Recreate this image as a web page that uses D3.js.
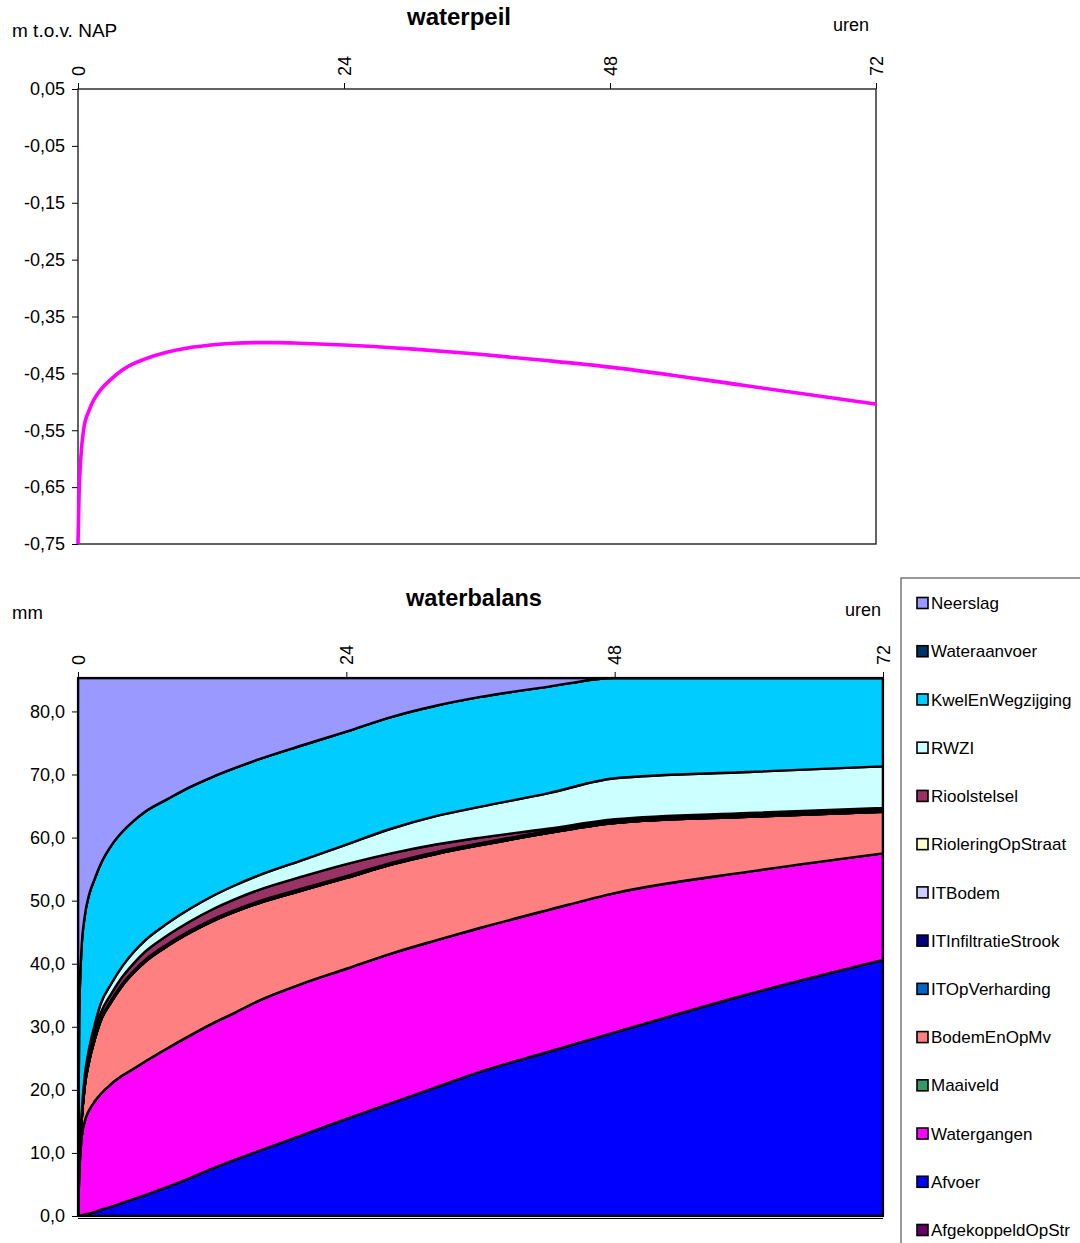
<!DOCTYPE html>
<html>
<head>
<meta charset="utf-8">
<script src="https://cdn.jsdelivr.net/npm/d3@7"></script>
<style>
  body { margin: 0; background: #fff; }
  svg { display: block; font-family: "Liberation Sans", Arial, sans-serif; }
</style>
</head>
<body>
<div class="canvas"></div>
<script>
// ---- data: waterpeil (m t.o.v. NAP) ----
const peilUren = [0, 0.1, 0.25, 0.5, 1, 1.5, 2, 3, 4, 5, 6, 8, 10, 12, 14, 16, 18, 20, 24, 30, 36, 42, 48, 60, 72];
const peil = [-0.75, -0.66, -0.6, -0.55, -0.515, -0.494, -0.48, -0.46, -0.444, -0.433, -0.425, -0.413, -0.405,
  -0.4, -0.397, -0.396, -0.396, -0.397, -0.4, -0.407, -0.416, -0.427, -0.439, -0.471, -0.504];
const peilTicks = [0.05, -0.05, -0.15, -0.25, -0.35, -0.45, -0.55, -0.65, -0.75];

// ---- data: waterbalans (mm) ----
const uren = [0, 0.1, 0.3, 0.6, 1, 1.5, 2, 3, 4, 5, 6, 8, 10, 12, 14, 16, 20, 24, 28, 32, 36, 42, 48, 60, 72];
const afgekoppeldOpStr = [0, 0, 0, 0, 0, 0, 0, 0, 0, 0, 0, 0, 0, 0, 0, 0, 0, 0, 0, 0, 0, 0, 0, 0, 0];
const afvoer = [0, 0.05, 0.12, 0.25, 0.4, 0.65, 0.95, 1.5, 2.1, 2.7, 3.3, 4.6, 6.0, 7.5, 8.9, 10.2, 12.8, 15.4,
  17.9, 20.4, 22.9, 26.0, 29.1, 35.2, 40.6];
const watergangen = [0, 5.95, 11.88, 14.75, 16.4, 17.55, 18.35, 19.5, 20.2, 20.7, 21.2, 22.0, 22.6, 23.0, 23.3,
  23.8, 24.0, 23.8, 23.7, 23.3, 22.8, 22.5, 22.1, 19.4, 16.9];
const maaiveld = [0, 0, 0, 0, 0, 0, 0, 0, 0, 0, 0, 0, 0, 0, 0, 0, 0, 0, 0, 0, 0, 0, 0, 0, 0];
const bodemEnOpMv = [0, 2.0, 2.5, 5.5, 7.7, 9.8, 11.5, 13.0, 14.3, 15.2, 15.8, 16.2, 16.3, 16.2, 16.0, 15.5,
  14.8, 14.4, 14.1, 13.7, 13.1, 12.2, 11.1, 8.7, 6.6];
const itOpVerharding = [0, 0, 0, 0, 0, 0, 0, 0, 0, 0, 0, 0, 0, 0, 0, 0, 0, 0, 0, 0, 0, 0, 0, 0, 0];
const itInfiltratieStrook = [0, 0, 0, 0, 0, 0, 0, 0, 0, 0, 0, 0, 0, 0, 0, 0, 0, 0, 0, 0, 0, 0, 0, 0, 0];
const itBodem = [0, 0, 0.1, 0.1, 0.1, 0.1, 0.1, 0.1, 0.1, 0.1, 0.1, 0.1, 0.1, 0.1, 0.1, 0.1, 0.1, 0.1, 0.1,
  0.1, 0.1, 0.1, 0.1, 0.1, 0.1];
const rioleringOpStraat = [0, 0.1, 0.1, 0.2, 0.2, 0.2, 0.2, 0.2, 0.2, 0.2, 0.2, 0.2, 0.2, 0.2, 0.2, 0.2, 0.2,
  0.2, 0.2, 0.2, 0.2, 0.2, 0.2, 0.2, 0.2];
const rioolstelsel = [0, 0.3, 0.5, 0.7, 0.8, 0.9, 1.0, 1.0, 1.1, 1.2, 1.3, 1.4, 1.5, 1.6, 1.7, 1.8, 1.9, 1.9,
  1.5, 1.2, 0.9, 0.4, 0.3, 0.3, 0.3];
const rwzi = [0, 0.2, 0.4, 0.7, 1.0, 1.2, 1.4, 1.6, 1.7, 1.8, 1.8, 1.9, 2.0, 2.1, 2.2, 2.3, 2.6, 3.1, 3.9, 4.5,
  4.9, 5.6, 6.5, 6.5, 6.6];
const kwelEnWegzijging = [0, 22.4, 26.4, 25.3, 24.4, 23.1, 22.2, 21.9, 21.3, 20.8, 20.4, 19.7, 19.3, 18.9,
  18.6, 18.4, 18.2, 17.9, 17.7, 17.5, 17.4, 16.9, 15.9, 14.9, 14.0];
const wateraanvoer = [0, 0, 0, 0, 0, 0, 0, 0, 0, 0, 0, 0, 0, 0, 0, 0, 0, 0, 0, 0, 0, 0, 0, 0, 0];
const neerslag = [85.3, 54.3, 43.3, 37.8, 34.3, 31.8, 29.6, 26.5, 24.3, 22.6, 21.2, 19.2, 17.3, 15.7, 14.3,
  13.0, 10.7, 8.5, 6.2, 4.4, 3.0, 1.4, 0, 0, 0];
const balansTicks = [0, 10, 20, 30, 40, 50, 60, 70, 80];
const urenTicks = [0, 24, 48, 72];

// stack order: first = bottom
const series = [
  { name: "AfgekoppeldOpStr", values: afgekoppeldOpStr, color: "#660066" },
  { name: "Afvoer", values: afvoer, color: "#0000ff" },
  { name: "Watergangen", values: watergangen, color: "#ff00ff" },
  { name: "Maaiveld", values: maaiveld, color: "#339966" },
  { name: "BodemEnOpMv", values: bodemEnOpMv, color: "#ff8080" },
  { name: "ITOpVerharding", values: itOpVerharding, color: "#0066cc" },
  { name: "ITInfiltratieStrook", values: itInfiltratieStrook, color: "#000080" },
  { name: "ITBodem", values: itBodem, color: "#ccccff" },
  { name: "RioleringOpStraat", values: rioleringOpStraat, color: "#ffffcc" },
  { name: "Rioolstelsel", values: rioolstelsel, color: "#993366" },
  { name: "RWZI", values: rwzi, color: "#ccffff" },
  { name: "KwelEnWegzijging", values: kwelEnWegzijging, color: "#00ccff" },
  { name: "Wateraanvoer", values: wateraanvoer, color: "#003366" },
  { name: "Neerslag", values: neerslag, color: "#9999ff" }
];

const svg = d3
  .select(".canvas")
  .append("svg")
  .attr("width", 1080)
  .attr("height", 1243);

const nl = d3.formatLocale({ decimal: ",", thousands: ".", grouping: [3], currency: ["", ""], minus: "-" });
const fmt2 = nl.format(".2f");
const fmt1 = nl.format(".1f");

function styleXAxis(g) {
  g.select(".domain").remove();
  g.selectAll(".tick line").attr("stroke", "#000");
  g.selectAll(".tick text")
    .attr("transform", "rotate(-90)")
    .attr("x", 13)
    .attr("y", 0)
    .attr("dy", "0.35em")
    .attr("text-anchor", "start")
    .attr("font-size", 18)
    .attr("fill", "#000");
}

function styleYAxis(g) {
  g.select(".domain").remove();
  g.selectAll(".tick line").attr("stroke", "#000");
  g.selectAll(".tick text").attr("font-size", 18).attr("fill", "#000").attr("x", -13);
}

// ================= waterpeil =================
const topL = 78, topR = 876, topT = 89, topB = 544;
const xTop = d3.scaleLinear().domain([0, 72]).range([topL, topR]);
const yTop = d3.scaleLinear().domain([-0.75, 0.05]).range([topB, topT]);

svg.append("text").text("waterpeil").attr("x", 459).attr("y", 25)
  .attr("text-anchor", "middle").attr("font-size", 24).attr("font-weight", "bold");
svg.append("text").text("m t.o.v. NAP").attr("x", 12).attr("y", 37).attr("font-size", 19);
svg.append("text").text("uren").attr("x", 869).attr("y", 31).attr("text-anchor", "end").attr("font-size", 18);

svg.append("g")
  .attr("transform", `translate(0,${topT})`)
  .call(d3.axisTop(xTop).tickValues(urenTicks).tickSize(6).tickFormat(d3.format("d")))
  .call(styleXAxis);

svg.append("g")
  .attr("transform", `translate(${topL},0)`)
  .call(d3.axisLeft(yTop).tickValues(peilTicks).tickSize(6).tickFormat(fmt2))
  .call(styleYAxis);

svg.append("rect")
  .attr("x", topL).attr("y", topT)
  .attr("width", topR - topL).attr("height", topB - topT)
  .attr("fill", "none").attr("stroke", "#222").attr("stroke-width", 1.4);

const peilLine = d3.line()
  .x((d, i) => xTop(peilUren[i]))
  .y((d) => yTop(d))
  .curve(d3.curveMonotoneX);

svg.append("path")
  .datum(peil)
  .attr("d", peilLine)
  .attr("fill", "none")
  .attr("stroke", "#ff00ff")
  .attr("stroke-width", 3.6);

// ================= waterbalans =================
const botL = 78, botR = 883, botT = 678, botB = 1216;
const xBot = d3.scaleLinear().domain([0, 72]).range([botL, botR]);
const yBot = d3.scaleLinear().domain([0, 85.3]).range([botB, botT]);

svg.append("text").text("waterbalans").attr("x", 474).attr("y", 606)
  .attr("text-anchor", "middle").attr("font-size", 23.5).attr("font-weight", "bold");
svg.append("text").text("mm").attr("x", 12).attr("y", 619).attr("font-size", 18.5);
svg.append("text").text("uren").attr("x", 881).attr("y", 616).attr("text-anchor", "end").attr("font-size", 18);

svg.append("g")
  .attr("transform", `translate(0,${botT})`)
  .call(d3.axisTop(xBot).tickValues(urenTicks).tickSize(6).tickFormat(d3.format("d")))
  .call(styleXAxis);

svg.append("g")
  .attr("transform", `translate(${botL},0)`)
  .call(d3.axisLeft(yBot).tickValues(balansTicks).tickSize(6).tickFormat(fmt1))
  .call(styleYAxis);

// table for d3.stack
const table = uren.map((u, i) => {
  const row = { uren: u };
  series.forEach((s) => (row[s.name] = s.values[i]));
  return row;
});

const stack = d3.stack().keys(series.map((s) => s.name));
const layers = stack(table);

svg.append("clipPath").attr("id", "plotclip")
  .append("rect")
  .attr("x", botL).attr("y", botT)
  .attr("width", botR - botL).attr("height", botB - botT);

const area = d3.area()
  .x((d) => xBot(d.data.uren))
  .y0((d) => yBot(d[0]))
  .y1((d) => yBot(d[1]))
  .curve(d3.curveMonotoneX);

svg.append("g")
  .attr("clip-path", "url(#plotclip)")
  .selectAll("path")
  .data(layers)
  .enter()
  .append("path")
  .attr("d", area)
  .attr("fill", (d, i) => series[i].color)
  .attr("stroke", "#000")
  .attr("stroke-width", 2.4)
  .attr("stroke-linejoin", "round");

svg.append("rect")
  .attr("x", botL).attr("y", botT)
  .attr("width", botR - botL).attr("height", botB - botT)
  .attr("fill", "none").attr("stroke", "#000").attr("stroke-width", 2.2);

svg.append("line")
  .attr("x1", botL).attr("x2", botR)
  .attr("y1", botB + 2.5).attr("y2", botB + 2.5)
  .attr("stroke", "#000").attr("stroke-width", 1);

// ================= legend =================
const legend = svg.append("g");
legend.append("rect")
  .attr("x", 901).attr("y", 578)
  .attr("width", 200).attr("height", 700)
  .attr("fill", "#fff").attr("stroke", "#555").attr("stroke-width", 1.2);

const legendItems = series.slice().reverse();
const legendY = d3.scalePoint().domain(legendItems.map((s) => s.name)).range([603, 1230]);

const item = legend.selectAll("g.item")
  .data(legendItems)
  .enter()
  .append("g")
  .attr("class", "item")
  .attr("transform", (d) => `translate(0,${legendY(d.name)})`);

item.append("rect")
  .attr("x", 917).attr("y", -5.5)
  .attr("width", 11).attr("height", 11)
  .attr("fill", (d) => d.color)
  .attr("stroke", "#000").attr("stroke-width", 1.6);

item.append("text")
  .text((d) => d.name)
  .attr("x", 931).attr("y", 0)
  .attr("dy", "0.36em")
  .attr("font-size", 17);
</script>
</body>
</html>
